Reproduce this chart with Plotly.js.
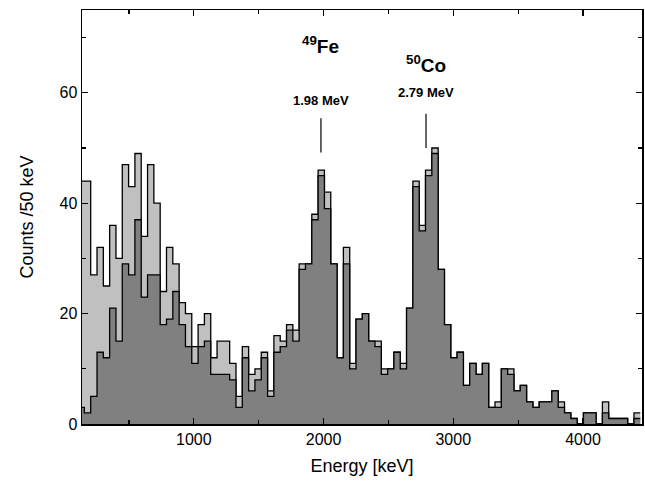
<!DOCTYPE html>
<html>
<head>
<meta charset="utf-8">
<script src="https://cdn.plot.ly/plotly-3.0.1.min.js"></script>
<style>html,body{margin:0;padding:0;background:#fff;}#chart{width:645px;height:488px;}</style>
</head>
<body>
<div id="chart"></div>
<script>
// Bin left edges (keV)
const binEdges = [107.6,156.3,205.0,253.7,302.4,351.1,399.8,448.5,497.2,545.9,594.6,643.3,692.0,740.7,789.4,838.1,886.8,935.5,984.2,1032.9,1081.6,1130.3,1179.0,1227.7,1276.4,1325.1,1373.8,1422.5,1471.2,1519.9,1568.6,1617.3,1666.0,1714.7,1763.4,1812.1,1860.8,1909.5,1958.2,2006.9,2055.6,2104.3,2153.0,2201.7,2250.4,2299.1,2347.8,2396.5,2445.2,2493.9,2542.6,2591.3,2640.0,2688.7,2737.4,2786.1,2834.8,2883.5,2932.2,2980.9,3029.6,3078.3,3127.0,3175.7,3224.4,3273.1,3321.8,3370.5,3419.2,3467.9,3516.6,3565.3,3614.0,3662.7,3711.4,3760.1,3808.8,3857.5,3906.2,3954.9,4003.6,4052.3,4101.0,4149.7,4198.4,4247.1,4295.8,4344.5,4393.2];
const lastEdge = 4441.9;
// total (light grey) counts per bin
const totalCounts = [44,44,27,32,25,36,30,47,43,49,34,47,40,24,32,29,22,20,14,18,20,12,15,15,11,5,14,9,10,13,6,16,15,18,17,29,29,38,46,42,29,12,32,11,19,20,15,15,10,10,13,11,21,44,36,46,50,28,18,12,13,7,11,9,11,3,4,10,10,6,7,4,3,4,4,6,4,2,1,0,2,2,0,4,1,1,1,0,2];
// gated (dark grey) counts per bin
const gatedCounts = [3,2,5,13,12,21,15,29,27,37,23,27,27,18,19,24,18,14,11,14,15,9,9,9,8,3,12,6,8,12,5,13,14,17,15,28,29,37,45,39,29,12,29,10,19,20,15,14,9,10,13,10,21,43,35,45,49,28,18,12,13,7,11,9,11,3,3,10,9,6,7,4,3,4,4,6,3,2,1,0,2,2,0,2,1,1,1,0,1];
const yTicks = [0,20,40,60];
const xTicks = [1000,2000,3000,4000];
const peakIso = ['49','50'];
const peakEl = ['Fe','Co'];
const peakEnergyText = ['1.98 MeV','2.79 MeV'];
const peakEnergy = [1980, 2790];

function stepXY(counts){
  const xs = binEdges.slice();
  const ys = counts.slice();
  xs.push(lastEdge);
  ys.push(counts[counts.length-1]);
  return {x: xs, y: ys};
}
const t = stepXY(totalCounts), g = stepXY(gatedCounts);
const traces = [
  {x:t.x, y:t.y, type:'scatter', mode:'lines', line:{shape:'hv', color:'#000', width:1.3}, fill:'tozeroy', fillcolor:'#c0c0c0', hoverinfo:'skip'},
  {x:g.x, y:g.y, type:'scatter', mode:'lines', line:{shape:'hv', color:'#000', width:1.3}, fill:'tozeroy', fillcolor:'#808080', hoverinfo:'skip'}
];
const annotations = [];
const shapes = [];
const labelY = [{name:68.6, en:58.6, l0:55.4, l1:49.2}, {name:65.2, en:60.0, l0:56.2, l1:50.0}];
const fam = 'Liberation Sans, Arial, sans-serif';
peakEnergy.forEach((e,i)=>{
  annotations.push({x:e, y:labelY[i].name, xref:'x', yref:'y', text:'<b><sup>'+peakIso[i]+'</sup>'+peakEl[i]+'</b>', showarrow:false, font:{family:fam, size:19, color:'#000'}});
  annotations.push({x:e, y:labelY[i].en, xref:'x', yref:'y', text:'<b>'+peakEnergyText[i]+'</b>', showarrow:false, font:{family:fam, size:13, color:'#000'}});
  shapes.push({type:'line', xref:'x', yref:'y', x0:e, x1:e, y0:labelY[i].l0, y1:labelY[i].l1, line:{color:'#000', width:1.2}});
});
const axisFont = {family:fam, size:16, color:'#000'};
const layout = {
  width:645, height:488,
  margin:{l:82, r:3, t:10, b:64},
  paper_bgcolor:'#fff', plot_bgcolor:'#fff',
  showlegend:false,
  xaxis:{range:[138,4455], tickvals:xTicks, ticktext:xTicks.map(String), ticks:'inside', ticklen:6, tickwidth:1.2, tickcolor:'#000',
    minor:{dtick:500, tick0:0, ticks:'inside', ticklen:4, tickcolor:'#000', tickwidth:1.2},
    showline:true, linecolor:'#000', linewidth:1.5, mirror:'ticks', showgrid:false, zeroline:false,
    tickfont:axisFont, title:{text:'Energy [keV]', font:{family:fam, size:18, color:'#000'}, standoff:12}},
  yaxis:{range:[0,75], tickvals:yTicks, ticktext:yTicks.map(String), ticks:'inside', ticklen:6, tickwidth:1.2, tickcolor:'#000',
    minor:{dtick:10, tick0:0, ticks:'inside', ticklen:4, tickcolor:'#000', tickwidth:1.2},
    showline:true, linecolor:'#000', linewidth:1.5, mirror:'ticks', showgrid:false, zeroline:false,
    tickfont:axisFont, title:{text:'Counts /50 keV', font:{family:fam, size:18, color:'#000'}, standoff:21}},
  annotations:annotations, shapes:shapes
};
Plotly.newPlot('chart', traces, layout, {staticPlot:true, displayModeBar:false});
</script>
</body>
</html>
